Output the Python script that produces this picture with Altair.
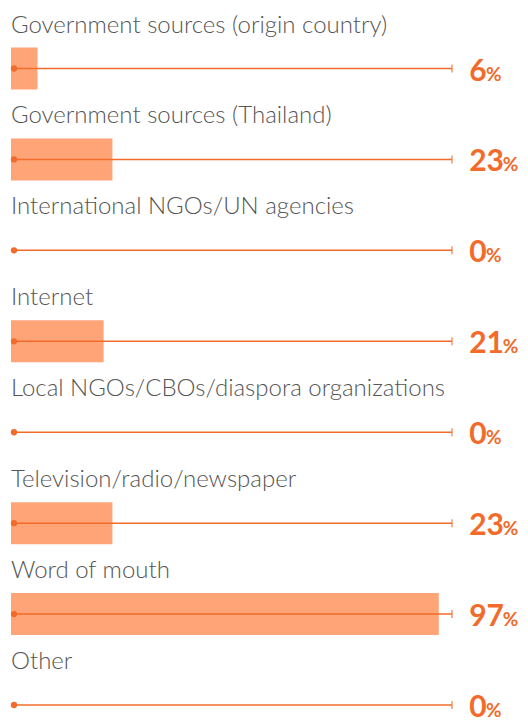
import altair as alt
import pandas as pd

categories = [
    "Government sources (origin country)",
    "Government sources (Thailand)",
    "International NGOs/UN agencies",
    "Internet",
    "Local NGOs/CBOs/diaspora organizations",
    "Television/radio/newspaper",
    "Word of mouth",
    "Other",
]
values = [6, 23, 0, 21, 0, 23, 97, 0]

df = pd.DataFrame({"category": categories, "value": values, "idx": list(range(len(categories)))})

ORANGE = "#f26b2a"
BAR = "#ffa477"
GREY = "#555555"

PX_PER_PCT = 4.41
W = 509
xscale = alt.Scale(domain=[0, W / PX_PER_PCT], nice=False, zero=False)
ROW = 90.93
H = 712
d0 = -60.5 / ROW
yscale = alt.Scale(domain=[d0, d0 + H / ROW], nice=False, zero=False, reverse=True)

base = alt.Chart(df).transform_calculate(
    y0="datum.idx - 0.231",
    y1="datum.idx + 0.231",
    zero="0",
    lstart="0.68",
    lend="100",
    numx="103.9",
    pctx="103.9 + length(toString(datum.value)) * 3.8",
)


def X(f):
    return alt.X(f, type="quantitative", scale=xscale, axis=None)


def Y(f):
    return alt.Y(f, type="quantitative", scale=yscale, axis=None)


bars = base.mark_bar(color=BAR, opacity=1).encode(
    x=X("zero"), x2="value:Q", y=Y("y0"), y2="y1:Q"
)
line = base.mark_rule(color=ORANGE, strokeWidth=1.5).encode(
    x=X("lstart"), x2="lend:Q", y=Y("idx")
)
dot = base.mark_point(color=ORANGE, filled=True, size=40, opacity=1).encode(
    x=X("lstart"), y=Y("idx")
)
endtick = base.mark_tick(color=ORANGE, thickness=1.5, size=8, orient="vertical").encode(
    x=X("lend"), y=Y("idx")
)
labels = base.mark_text(
    align="left", baseline="alphabetic", dy=-36, font="Lato", fontWeight=300,
    fontSize=24, color=GREY,
).encode(x=X("zero"), y=Y("idx"), text="category:N")
nums = base.mark_text(
    align="left", baseline="alphabetic", dy=12, font="Lato", fontWeight="bold",
    fontSize=30, color=ORANGE,
).encode(x=X("numx"), y=Y("idx"), text="value:Q")
pct = base.mark_text(
    align="left", baseline="alphabetic", dy=12, font="Lato", fontWeight="bold",
    fontSize=19, color=ORANGE,
).encode(x=X("pctx"), y=Y("idx"), text=alt.value("%"))

chart = alt.layer(bars, line, dot, endtick, labels, nums, pct).properties(
    width=W, height=H,
    padding={"left": 3, "top": 0, "right": 0, "bottom": 0},
    autosize=alt.AutoSizeParams(type="none"),
).configure_view(stroke=None)

chart.save("out.html", embed_options={"renderer": "svg", "actions": False})
